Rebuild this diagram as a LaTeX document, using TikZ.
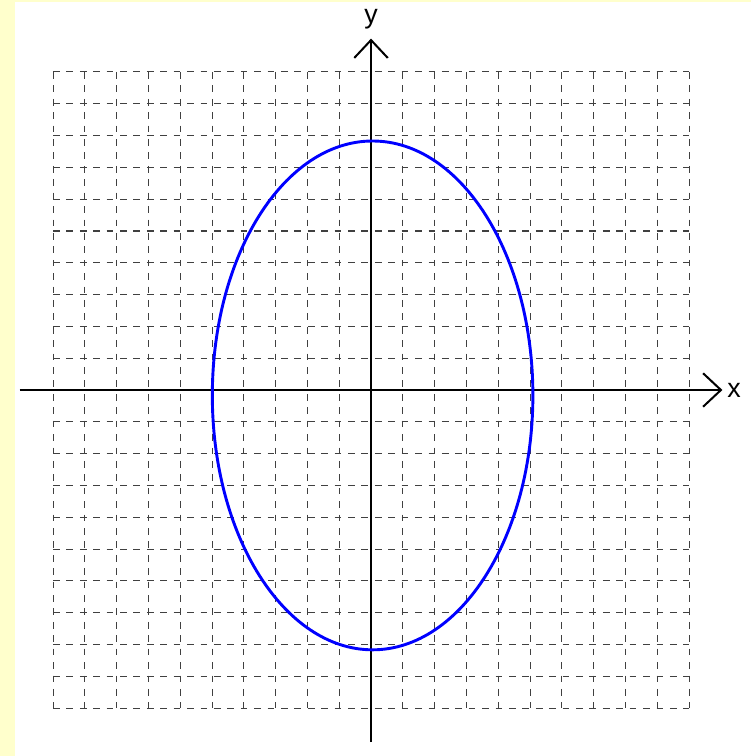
\documentclass[tikz,border=0pt]{standalone}
\usepackage{fontspec}
\setmainfont{Liberation Sans}
\usetikzlibrary{arrows.meta}

\begin{document}
\begin{tikzpicture}[x=0.5cm,y=0.5cm]
  % Define colors
  \definecolor{paneyellow}{RGB}{255,255,204}
  \definecolor{curveblue}{RGB}{0,0,255}

  \tikzset{
    gridline/.style={dashed, line width=0.45pt, black!75},
    axis/.style={line width=0.9pt, -{Straight Barb[length=8pt,width=15pt]}},
    curve/.style={curveblue, line width=1.3pt},
    axislabel/.style={font=\fontsize{12}{14}\selectfont}
  }

  % Background panel
  \fill[paneyellow] (-11.667,-11.509) rectangle (11.95,12.264);
  \fill[white] (-11.195,-11.509) rectangle (11.95,12.2);
  \useasboundingbox (-11.667,-11.509) rectangle (11.95,12.264);

  % Dashed grid
  \foreach \i in {-10,...,10} {
    \draw[gridline] (-10,\i) -- (10,\i);
    \draw[gridline] (\i,10) -- (\i,-10);
  }

  % Axes
  \coordinate (xstart) at (-11.05,0);
  \coordinate (xend) at (11.05,0);
  \coordinate (ystart) at (0,-11.07);
  \coordinate (yend) at (0,11.05);
  \draw[axis] (xstart) -- (xend);
  \draw[axis] (ystart) -- (yend);
  \node[axislabel, right, inner sep=2pt] (xlabel) at (xend) {x};
  \node[axislabel, above, inner sep=4pt] (ylabel) at (yend) {y};

  % Ellipse
  \draw[curve] (0.05,-0.17) ellipse [x radius=5.04, y radius=8];
\end{tikzpicture}
\end{document}
